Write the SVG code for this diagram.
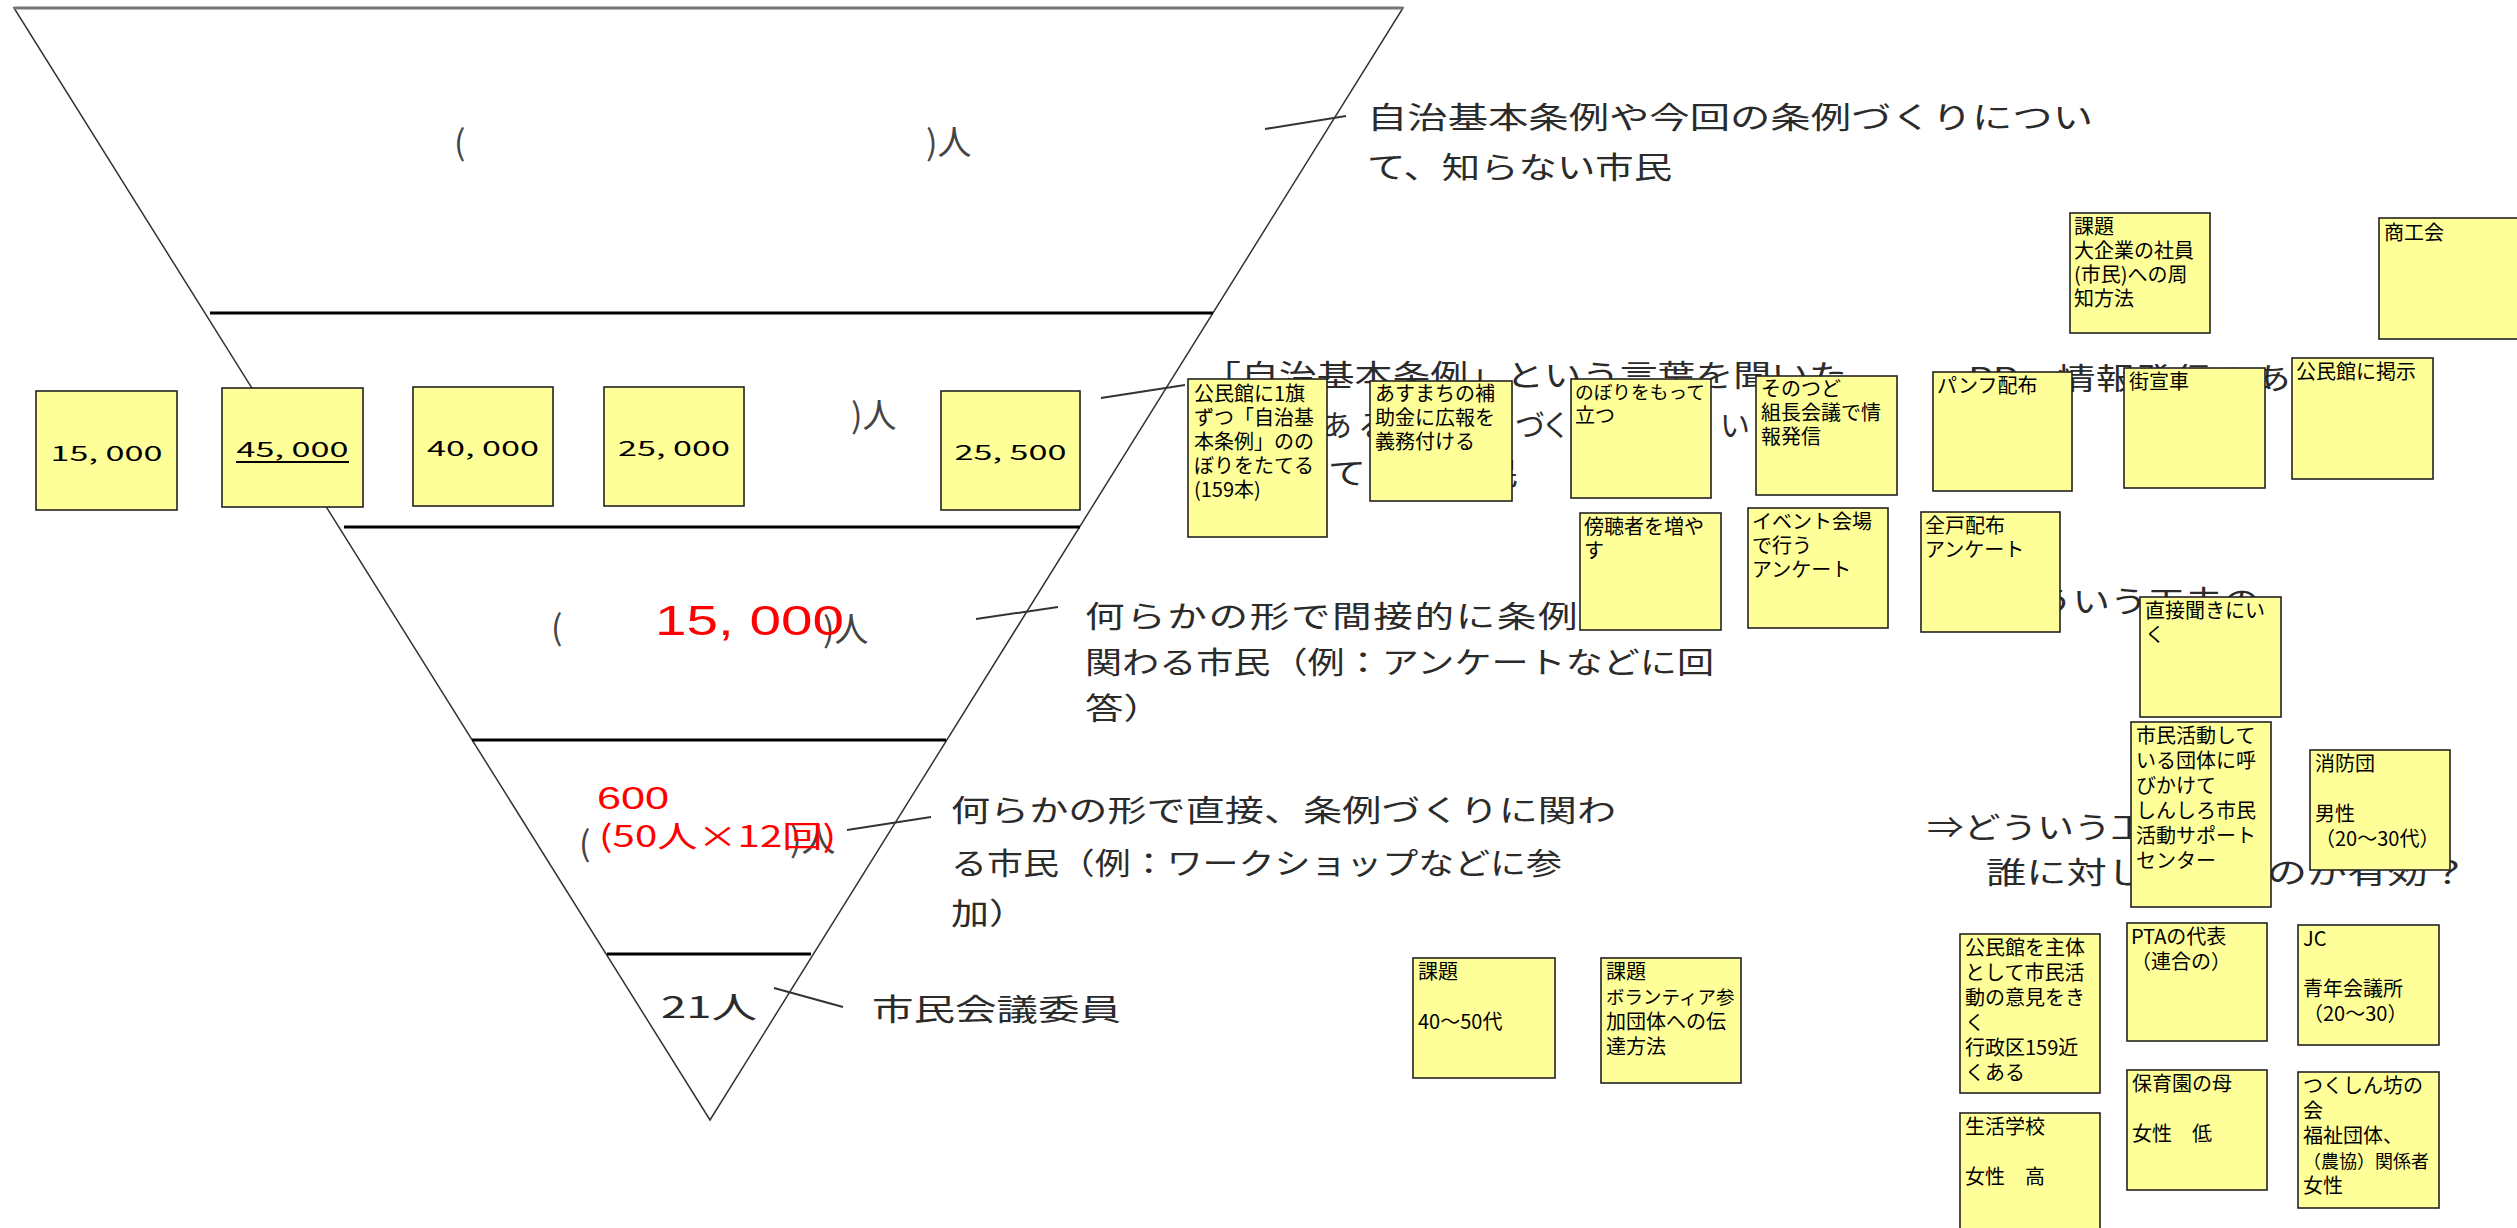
<svg xmlns="http://www.w3.org/2000/svg" width="2517" height="1228" viewBox="0 0 2517 1228">
<style>
.big{font-family:"Noto Sans CJK JP","Noto Sans CJK SC",sans-serif;font-size:30px;fill:#2b2b2b}
.par{font-family:"Noto Sans CJK JP","Noto Sans CJK SC",sans-serif;font-size:34px;fill:#444}
.red{font-family:"Liberation Sans","Noto Sans CJK JP",sans-serif;fill:#ff0000}
.redj{font-family:"Noto Sans CJK JP","Noto Sans CJK SC",sans-serif;fill:#ff0000}
.num{font-family:"Liberation Sans","Noto Sans CJK JP",sans-serif;font-size:30px;fill:#000;text-anchor:middle}
.note rect{fill:#ffff99;stroke:#222;stroke-width:1.6}
.note text{font-family:"Noto Sans CJK JP","Noto Sans CJK SC",sans-serif;font-size:20px;fill:#000}
.sep{stroke:#000;stroke-width:3}
.conn line{stroke:#333;stroke-width:2}
</style>
<rect width="2517" height="1228" fill="#fff"/>

<g id="pyramid">
<polygon points="14,8 1403,8 710,1120" fill="#fff" stroke="#333" stroke-width="1.5"/>
<line x1="14" y1="8" x2="1403" y2="8" stroke="#777" stroke-width="3"/>
<line class="sep" x1="210" y1="313" x2="1213" y2="313"/>
<line class="sep" x1="344" y1="527" x2="1080" y2="527"/>
<line class="sep" x1="472" y1="740" x2="946" y2="740"/>
<line class="sep" x1="607" y1="954" x2="811" y2="954"/>
</g>

<g id="band-labels">
<text class="par" x="454" y="155">(</text>
<text class="par" x="926" y="155">)人</text>
<text class="par" x="851" y="428">)人</text>
<text class="par" x="551" y="640">(</text>
<text class="par" x="823" y="642">)人</text>
<text class="par" x="579" y="856">(</text>
<text class="par" x="790" y="852">)人</text>
<text class="red" x="655" y="635" font-size="43" textLength="189" lengthAdjust="spacingAndGlyphs">15, 000</text>
<text class="red" x="597" y="809" font-size="32" textLength="72" lengthAdjust="spacingAndGlyphs">600</text>
<text class="redj" x="599" y="847" font-size="30" textLength="237" lengthAdjust="spacingAndGlyphs">(50人×12回)</text>
<text class="big" x="661" y="1018" font-size="36" textLength="96" lengthAdjust="spacingAndGlyphs">21人</text>
</g>

<g id="descriptions">
<text class="big" x="1367" y="128" textLength="726" lengthAdjust="spacingAndGlyphs">自治基本条例や今回の条例づくりについ</text>
<text class="big" x="1367" y="178" textLength="305" lengthAdjust="spacingAndGlyphs">て、知らない市民</text>
<text class="big" x="1203" y="386" textLength="644" lengthAdjust="spacingAndGlyphs">「自治基本条例」という言葉を聞いた</text>
<text class="big" x="1207 1245 1284 1322 1358 1398 1436 1474 1515 1541 1580 1620 1660 1720 1760 1798 1836" y="436">ことはある、条例づくりについて知っ</text>
<text class="big" x="1328" y="484" textLength="190" lengthAdjust="spacingAndGlyphs">ている市民</text>
<text class="big" x="1929" y="389" textLength="440" lengthAdjust="spacingAndGlyphs">・PR、情報発信のあり方</text>
<text class="big" x="1960" y="612" textLength="300" lengthAdjust="spacingAndGlyphs">・どういう工夫の</text>
<text class="big" x="1927" y="838" textLength="294" lengthAdjust="spacingAndGlyphs">⇒どういう工夫を</text>
<text class="big" x="1986" y="883" textLength="482" lengthAdjust="spacingAndGlyphs">誰に対して行うのが有効？</text>
<text class="big" transform="translate(1085 627) scale(1.32 1)" x="0 31.2 62.4 93.6 124.8 156 187.2 218.4 249.6 280.8 312 343.2 380 403 426 449" y="0">何らかの形で間接的に条例づくりに</text>
<text class="big" x="1085" y="673" textLength="629" lengthAdjust="spacingAndGlyphs">関わる市民（例：アンケートなどに回</text>
<text class="big" x="1085" y="719" textLength="77" lengthAdjust="spacingAndGlyphs">答）</text>
<text class="big" x="951" y="821" textLength="665" lengthAdjust="spacingAndGlyphs">何らかの形で直接、条例づくりに関わ</text>
<text class="big" x="951" y="874" textLength="611" lengthAdjust="spacingAndGlyphs">る市民（例：ワークショップなどに参</text>
<text class="big" x="951" y="924" textLength="76" lengthAdjust="spacingAndGlyphs">加）</text>
<text class="big" x="872" y="1020" font-size="36" textLength="249" lengthAdjust="spacingAndGlyphs">市民会議委員</text>
</g>

<g id="connectors" class="conn">
<line x1="1265" y1="129" x2="1346" y2="116"/>
<line x1="1101" y1="398" x2="1185" y2="385"/>
<line x1="976" y1="619" x2="1058" y2="607"/>
<line x1="847" y1="830" x2="931" y2="817"/>
<line x1="774" y1="988" x2="843" y2="1007"/>
</g>

<g id="count-15000" class="note"><rect x="36" y="391" width="141" height="119"/><text class="num" x="106.5" y="461" textLength="112" lengthAdjust="spacingAndGlyphs">15, 000</text></g>
<g id="count-45000" class="note"><rect x="222" y="388" width="141" height="119"/><text class="num" x="292.5" y="457" textLength="112" lengthAdjust="spacingAndGlyphs">45, 000</text><line x1="236" y1="462" x2="349" y2="462" stroke="#000" stroke-width="2"/></g>
<g id="count-40000" class="note"><rect x="413" y="387" width="140" height="119"/><text class="num" x="483" y="456" textLength="112" lengthAdjust="spacingAndGlyphs">40, 000</text></g>
<g id="count-25000" class="note"><rect x="604" y="387" width="140" height="119"/><text class="num" x="674" y="456" textLength="112" lengthAdjust="spacingAndGlyphs">25, 000</text></g>
<g id="count-25500" class="note"><rect x="941" y="391" width="139" height="119"/><text class="num" x="1010.5" y="460" textLength="112" lengthAdjust="spacingAndGlyphs">25, 500</text></g>

<g id="n-nobori159" class="note"><rect x="1188" y="379" width="139" height="158"/><text x="1194" y="401"><tspan x="1194">公民館に1旗</tspan><tspan x="1194" dy="24">ずつ「自治基</tspan><tspan x="1194" dy="24">本条例」のの</tspan><tspan x="1194" dy="24">ぼりをたてる</tspan><tspan x="1194" dy="24">(159本)</tspan></text></g>
<g id="n-asumachi" class="note"><rect x="1370" y="381" width="142" height="120"/><text x="1375" y="401"><tspan x="1375">あすまちの補</tspan><tspan x="1375" dy="24">助金に広報を</tspan><tspan x="1375" dy="24">義務付ける</tspan></text></g>
<g id="n-nobori" class="note"><rect x="1571" y="379" width="140" height="119"/><text x="1575" y="399"><tspan x="1575" font-size="18.7">のぼりをもって</tspan><tspan x="1575" dy="24">立つ</tspan></text></g>
<g id="n-kumicho" class="note"><rect x="1756" y="376" width="141" height="119"/><text x="1761" y="396"><tspan x="1761">そのつど</tspan><tspan x="1761" dy="24">組長会議で情</tspan><tspan x="1761" dy="24">報発信</tspan></text></g>
<g id="n-pamph" class="note"><rect x="1933" y="372" width="139" height="119"/><text x="1937" y="393">パンフ配布</text></g>
<g id="n-gaisen" class="note"><rect x="2124" y="368" width="141" height="120"/><text x="2129" y="389">街宣車</text></g>
<g id="n-keiji" class="note"><rect x="2292" y="358" width="141" height="121"/><text x="2296" y="379">公民館に掲示</text></g>
<g id="n-kadai-kigyo" class="note"><rect x="2070" y="213" width="140" height="120"/><text x="2074" y="234"><tspan x="2074">課題</tspan><tspan x="2074" dy="24">大企業の社員</tspan><tspan x="2074" dy="24">(市民)への周</tspan><tspan x="2074" dy="24">知方法</tspan></text></g>
<g id="n-shokokai" class="note"><rect x="2379" y="218" width="142" height="121"/><text x="2384" y="240">商工会</text></g>
<g id="n-bochosha" class="note"><rect x="1580" y="513" width="141" height="117"/><text x="1584" y="534"><tspan x="1584">傍聴者を増や</tspan><tspan x="1584" dy="24">す</tspan></text></g>
<g id="n-event" class="note"><rect x="1748" y="508" width="140" height="120"/><text x="1752" y="529"><tspan x="1752">イベント会場</tspan><tspan x="1752" dy="24">で行う</tspan><tspan x="1752" dy="24">アンケート</tspan></text></g>
<g id="n-zenko" class="note"><rect x="1921" y="512" width="139" height="120"/><text x="1925" y="533"><tspan x="1925">全戸配布</tspan><tspan x="1925" dy="24">アンケート</tspan></text></g>
<g id="n-chokusetsu" class="note"><rect x="2140" y="597" width="141" height="120"/><text x="2145" y="618"><tspan x="2145">直接聞きにい</tspan><tspan x="2145" dy="24">く</tspan></text></g>
<g id="n-shimin-katsudo" class="note"><rect x="2131" y="722" width="140" height="185"/><text x="2136" y="743"><tspan x="2136">市民活動して</tspan><tspan x="2136" dy="25">いる団体に呼</tspan><tspan x="2136" dy="25">びかけて</tspan><tspan x="2136" dy="25">しんしろ市民</tspan><tspan x="2136" dy="25">活動サポート</tspan><tspan x="2136" dy="25">センター</tspan></text></g>
<g id="n-shobodan" class="note"><rect x="2310" y="750" width="140" height="120"/><text x="2315" y="771"><tspan x="2315">消防団</tspan><tspan x="2315" dy="50">男性</tspan><tspan x="2315" dy="25">（20～30代）</tspan></text></g>
<g id="n-kominkan-shutai" class="note"><rect x="1960" y="934" width="140" height="159"/><text x="1965" y="955"><tspan x="1965">公民館を主体</tspan><tspan x="1965" dy="25">として市民活</tspan><tspan x="1965" dy="25">動の意見をき</tspan><tspan x="1965" dy="25">く</tspan><tspan x="1965" dy="25">行政区159近</tspan><tspan x="1965" dy="25">くある</tspan></text></g>
<g id="n-pta" class="note"><rect x="2127" y="923" width="140" height="118"/><text x="2131" y="944"><tspan x="2131">PTAの代表</tspan><tspan x="2131" dy="25">（連合の）</tspan></text></g>
<g id="n-jc" class="note"><rect x="2298" y="925" width="141" height="120"/><text x="2303" y="946"><tspan x="2303">JC</tspan><tspan x="2303" dy="50">青年会議所</tspan><tspan x="2303" dy="25">（20～30）</tspan></text></g>
<g id="n-seikatsu" class="note"><rect x="1960" y="1113" width="140" height="125"/><text x="1965" y="1134"><tspan x="1965">生活学校</tspan><tspan x="1965" dy="50">女性　高</tspan></text></g>
<g id="n-hoikuen" class="note"><rect x="2127" y="1070" width="140" height="120"/><text x="2132" y="1091"><tspan x="2132">保育園の母</tspan><tspan x="2132" dy="50">女性　低</tspan></text></g>
<g id="n-tsukushinbo" class="note"><rect x="2298" y="1072" width="141" height="136"/><text x="2303" y="1093"><tspan x="2303">つくしん坊の</tspan><tspan x="2303" dy="25">会</tspan><tspan x="2303" dy="25">福祉団体、</tspan><tspan x="2303" dy="25" font-size="18">（農協）関係者</tspan><tspan x="2303" dy="25">女性</tspan></text></g>
<g id="n-kadai-age" class="note"><rect x="1413" y="958" width="142" height="120"/><text x="1418" y="979"><tspan x="1418">課題</tspan><tspan x="1418" dy="50">40～50代</tspan></text></g>
<g id="n-kadai-volunteer" class="note"><rect x="1601" y="958" width="140" height="125"/><text x="1606" y="979"><tspan x="1606">課題</tspan><tspan x="1606" dy="25" font-size="18.5">ボランティア参</tspan><tspan x="1606" dy="25">加団体への伝</tspan><tspan x="1606" dy="25">達方法</tspan></text></g>
</svg>
